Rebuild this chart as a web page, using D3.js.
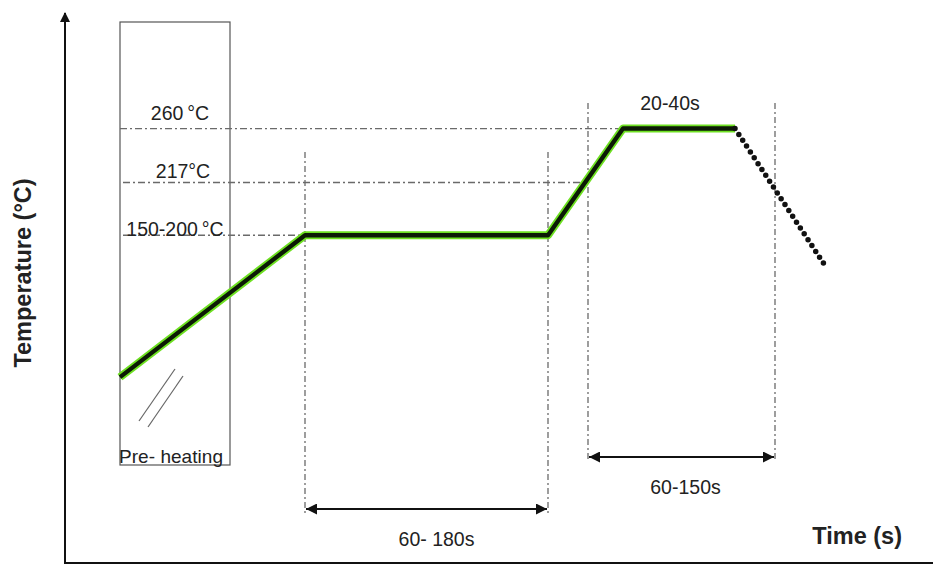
<!DOCTYPE html>
<html>
<head>
<meta charset="utf-8">
<script src="https://cdn.jsdelivr.net/npm/d3@7"></script>
<style>
  body { margin: 0; background: #fff; }
  text { font-family: "Liberation Sans", Arial, sans-serif; fill: #222; }
</style>
</head>
<body>
<div id="chart"></div>
<script>
// Reflow profile (schematic time units, temperature in °C)
const profileTime = [27.5, 120, 241.5, 279, 335];
const profileTemp = [62, 175, 175, 260, 260];
const coolTime = [335, 381];
const coolTemp = [260, 148.5];

// Reference temperature levels
const levelTemps = [260, 217, 175];
const levelLabels = ['260\u2009°C', '217°C', '150-200\u2009°C'];
const levelEnds = [279, 261.5, 120];

// Zone boundaries
const zoneTimes = [120, 241.5, 261.5, 355];
const spans = [
    {from: 120, to: 241.5, label: '60- 180s'},
    {from: 261.5, to: 355, label: '60-150s'}
];
const preheat = {from: 27.5, to: 82.5, label: 'Pre- heating'};

const width = 933, height = 565;

const x = d3.scaleLinear().domain([0, 434]).range([65, 933]);
const y = d3.scaleLinear().domain([-86, 352]).range([563, 13]);

const svg = d3.select('#chart')
    .append('svg')
    .attr('width', width)
    .attr('height', height);

const defs = svg.append('defs');
defs.append('marker')
    .attr('id', 'arr')
    .attr('viewBox', '0 0 10 10')
    .attr('refX', 10).attr('refY', 5)
    .attr('markerWidth', 14).attr('markerHeight', 11)
    .attr('markerUnits', 'userSpaceOnUse')
    .attr('orient', 'auto-start-reverse')
    .append('path').attr('d', 'M0,0L10,5L0,10Z').attr('fill', '#111');
defs.append('marker')
    .attr('id', 'axarr')
    .attr('viewBox', '0 0 10 10')
    .attr('refX', 9).attr('refY', 5)
    .attr('markerWidth', 11).attr('markerHeight', 10)
    .attr('markerUnits', 'userSpaceOnUse')
    .attr('orient', 'auto')
    .append('path').attr('d', 'M0,0L10,5L0,10Z').attr('fill', '#111');

// Pre-heating box
svg.append('rect')
    .attr('x', x(preheat.from)).attr('y', 22)
    .attr('width', x(preheat.to) - x(preheat.from))
    .attr('height', 443)
    .attr('fill', 'none').attr('stroke', '#555').attr('stroke-width', 1.2);

svg.append('text')
    .attr('x', x(preheat.from) - 1).attr('y', 463)
    .attr('font-size', 19)
    .attr('textLength', 104)
    .text(preheat.label);

// hatch marks inside box
[[139, 421, 175, 369], [148, 427, 183, 376]].forEach(d => {
    svg.append('line')
        .attr('x1', d[0]).attr('y1', d[1]).attr('x2', d[2]).attr('y2', d[3])
        .attr('stroke', '#666').attr('stroke-width', 1.2);
});

// Horizontal dash-dot level lines
const labelX = [180, 183, 175], labelDy = [9, 5, -1];
levelTemps.forEach((t, i) => {
    svg.append('line')
        .attr('x1', x(preheat.from) + (i === 0 ? 0 : 3)).attr('x2', x(levelEnds[i]))
        .attr('y1', y(t)).attr('y2', y(t))
        .attr('stroke', '#6a6a6a').attr('stroke-width', 1.3)
        .attr('stroke-dasharray', '7,3,2,3');
    svg.append('text')
        .attr('x', labelX[i]).attr('y', y(t) - labelDy[i])
        .attr('text-anchor', 'middle')
        .attr('font-size', 19.5)
        .text(levelLabels[i]);
});

// Vertical dash-dot zone lines
const vTop = [152, 152, 103, 103], vBot = [515, 515, 462, 462];
zoneTimes.forEach((t, i) => {
    svg.append('line')
        .attr('x1', x(t)).attr('x2', x(t))
        .attr('y1', vTop[i]).attr('y2', vBot[i])
        .attr('stroke', '#6a6a6a').attr('stroke-width', 1.3)
        .attr('stroke-dasharray', '6,3,2,3');
});

// Span arrows and labels
const spanY = [509, 457];
spans.forEach((s, i) => {
    const yy = spanY[i];
    svg.append('line')
        .attr('x1', x(s.from) + 1).attr('x2', x(s.to) - 1)
        .attr('y1', yy).attr('y2', yy)
        .attr('stroke', '#111').attr('stroke-width', 2.2)
        .attr('marker-start', 'url(#arr)')
        .attr('marker-end', 'url(#arr)');
    svg.append('text')
        .attr('x', (x(s.from) + x(s.to)) / 2 + 10 - 6 * i).attr('y', yy + 37)
        .attr('text-anchor', 'middle')
        .attr('font-size', 19.5)
        .text(s.label);
});

svg.append('text')
    .attr('x', 670).attr('y', 110)
    .attr('text-anchor', 'middle')
    .attr('font-size', 19.5)
    .text('20-40s');

// Profile curve: green halo + black core
const line = d3.line().x(d => x(d[0])).y(d => y(d[1]));
const prof = d3.zip(profileTime, profileTemp);
svg.append('path').datum(prof).attr('d', line)
    .attr('fill', 'none').attr('stroke', '#6ee022').attr('stroke-width', 8)
    .attr('stroke-linejoin', 'round');
svg.append('path').datum(prof).attr('d', line)
    .attr('fill', 'none').attr('stroke', '#0c1a05').attr('stroke-width', 4.3)
    .attr('stroke-linejoin', 'round');

// Cooling (dotted)
svg.append('path').datum(d3.zip(coolTime, coolTemp)).attr('d', line)
    .attr('fill', 'none').attr('stroke', '#111').attr('stroke-width', 5.5)
    .attr('stroke-dasharray', '0,7').attr('stroke-linecap', 'round');

// Axes
svg.append('line')
    .attr('x1', x(0)).attr('x2', x(0)).attr('y1', 563).attr('y2', 13)
    .attr('stroke', '#111').attr('stroke-width', 2)
    .attr('marker-end', 'url(#axarr)');
svg.append('line')
    .attr('x1', x(0) - 1).attr('x2', 933).attr('y1', 563).attr('y2', 563)
    .attr('stroke', '#111').attr('stroke-width', 2);

svg.append('text')
    .attr('transform', 'translate(31,273) rotate(-90)')
    .attr('text-anchor', 'middle')
    .attr('font-size', 23.5).attr('font-weight', 'bold')
    .text('Temperature (°C)');

svg.append('text')
    .attr('x', 902).attr('y', 544)
    .attr('text-anchor', 'end')
    .attr('font-size', 23.5).attr('font-weight', 'bold')
    .text('Time (s)');
</script>
</body>
</html>
